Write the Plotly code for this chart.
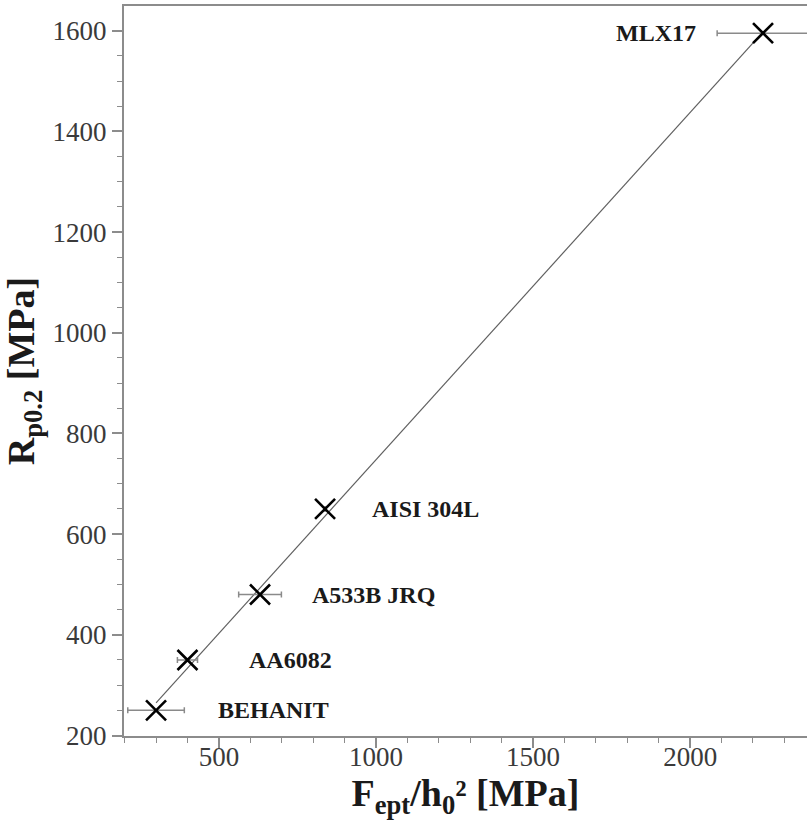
import numpy as np
import plotly.graph_objects as go

# Materials: normalised punch force vs. yield strength
materials = ["BEHANIT", "AA6082", "A533B JRQ", "AISI 304L", "MLX17"]
f_norm = [300, 400, 631, 838, 2232]          # F_ept / h0^2 [MPa]
f_norm_err = [90, 32, 68, 0, 146]             # scatter of F_ept / h0^2 [MPa]
rp02 = [250, 350, 480, 650, 1595]             # R_p0.2 [MPa]

# label placement (pixel offsets from each point)
label_shift = [60, 60, 50, 45, -65]
label_anchor = ["left", "left", "left", "left", "right"]

# least-squares line through the points
slope, intercept = np.polyfit(f_norm, rp02, 1)
fit_x = np.array([min(f_norm), max(f_norm)])
fit_y = slope * fit_x + intercept

serif = "Liberation Serif"

fig = go.Figure()
fig.add_trace(go.Scatter(
    x=fit_x, y=fit_y, mode="lines",
    line=dict(color="#606060", width=1.2),
    hoverinfo="skip", showlegend=False,
))
fig.add_trace(go.Scatter(
    x=f_norm, y=rp02, mode="markers",
    marker=dict(symbol="x-thin", size=20, color="black",
                line=dict(color="black", width=2.6)),
    error_x=dict(type="data", array=f_norm_err, visible=True,
                 color="#8a8a8a", thickness=1.5, width=3),
    showlegend=False,
))

for name, x, y, dx, anc in zip(materials, f_norm, rp02, label_shift, label_anchor):
    fig.add_annotation(
        x=x, y=y, text=f"<b>{name}</b>", showarrow=False,
        xanchor=anc, yanchor="middle", xshift=dx,
        font=dict(family=serif, size=24, color="#1a1a1a"),
    )

axis_common = dict(
    showgrid=False, zeroline=False,
    showline=True, linecolor="#8c8c8c", linewidth=2,
    ticks="outside", ticklen=10, tickwidth=1.5, tickcolor="#8c8c8c",
    tickfont=dict(family=serif, size=27, color="#3a3a3a"),
)

fig.update_layout(
    width=807, height=822,
    margin=dict(l=124, r=0, t=6, b=86),
    paper_bgcolor="white", plot_bgcolor="white",
    xaxis=dict(
        axis_common,
        range=[198, 2372], tickvals=[500, 1000, 1500, 2000],
        mirror=True, ticklabelstandoff=-14,
        minor=dict(dtick=100, tick0=0, ticks="outside", ticklen=5,
                   tickcolor="#8c8c8c", tickwidth=1.2),
        title=dict(text="<b>F<sub>ept</sub>/h<sub>0</sub>² [MPa]</b>",
                   font=dict(family=serif, size=38, color="#1a1a1a"),
                   standoff=2),
    ),
    yaxis=dict(
        axis_common,
        range=[199, 1649], tickvals=[200, 400, 600, 800, 1000, 1200, 1400, 1600],
        minor=dict(dtick=50, tick0=0, ticks="outside", ticklen=5,
                   tickcolor="#8c8c8c", tickwidth=1.2),
        title=dict(text="<b>R<sub>p0.2</sub> [MPa]</b>",
                   font=dict(family=serif, size=38, color="#1a1a1a"),
                   standoff=6),
    ),
)

fig.write_html("out.html")
